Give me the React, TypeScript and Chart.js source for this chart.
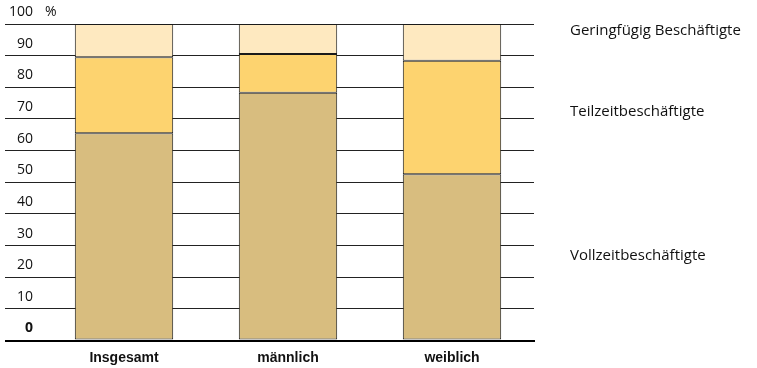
import React, { useEffect, useRef } from "react";
import { Chart, registerables } from "chart.js";

Chart.register(...registerables);

const categories = ["Insgesamt", "männlich", "weiblich"];
const seriesNames = ["Vollzeitbeschäftigte", "Teilzeitbeschäftigte", "Geringfügig Beschäftigte"];
const vollzeit = [65.5, 78.3, 52.5];
const teilzeit = [24.0, 12.2, 35.9];
const geringfuegig = [10.5, 9.5, 11.6];
const seriesColors = ["#D8BD7F", "#FDD36F", "#FEE9C0"];
const yMin = 0;
const yMax = 100;
const yStep = 10;
const unitLabel = "%";
// vertical anchor (in axis units) for each side label: Vollzeit, Teilzeit, Geringfügig
const sideLabelAnchors = [26.7, 72.2, 97.8];

export default function App() {
  const ref = useRef<HTMLCanvasElement | null>(null);

  useEffect(() => {
    const canvas = ref.current;
    if (!canvas) return;
    const series = [vollzeit, teilzeit, geringfuegig];

    const extras = {
      id: "extras",
      afterDraw(chart: any) {
        const ctx = chart.ctx;
        const y = chart.scales.y;
        const area = chart.chartArea;
        ctx.save();
        ctx.fillStyle = "#111";
        ctx.textBaseline = "middle";
        ctx.textAlign = "left";
        ctx.font = "14px 'Open Sans'";
        ctx.fillText(unitLabel, area.left + 3, y.getPixelForValue(yMax) - 12);
        ctx.font = "15px 'Open Sans'";
        seriesNames.forEach((name, i) => {
          ctx.fillText(name, 570, y.getPixelForValue(sideLabelAnchors[i]));
        });
        ctx.restore();
      },
    };

    const chart = new Chart(canvas, {
      type: "bar",
      data: {
        labels: categories,
        datasets: series.map((data, i) => ({
          label: seriesNames[i],
          data,
          backgroundColor: seriesColors[i],
          borderColor: "#1a1a1a",
          borderWidth: 1,
          borderSkipped: false,
          barPercentage: 0.6,
          categoryPercentage: 1,
        })),
      },
      options: {
        responsive: false,
        animation: false,
        layout: { padding: { top: 24, right: 223, left: 0, bottom: 0 } },
        plugins: { legend: { display: false }, tooltip: { enabled: false } },
        scales: {
          x: {
            stacked: true,
            grid: { display: false },
            border: { display: true, color: "#000", width: 2 },
            ticks: {
              color: "#111",
              padding: 1,
              font: { family: "'Liberation Sans Narrow', 'Liberation Sans'", weight: "bold", size: 14 },
            },
            afterFit: (s: any) => {
              s.height = 27.5;
            },
          },
          y: {
            stacked: true,
            min: yMin,
            max: yMax,
            border: { display: false },
            grid: {
              color: "#222",
              tickColor: (c: any) => (c.tick && c.tick.value === 0 ? "#000" : "#222"),
              drawTicks: true,
              tickLength: 37,
              lineWidth: (c: any) => (c.tick && c.tick.value === 0 ? 2 : 1),
              tickWidth: (c: any) => (c.tick && c.tick.value === 0 ? 2 : 1),
            },
            ticks: {
              stepSize: yStep,
              padding: -28,
              labelOffset: -12,
              color: "#111",
              font: (c: any) =>
                c.tick && c.tick.value === 0
                  ? { family: "'Open Sans'", size: 14, weight: "bold" }
                  : { family: "'Open Sans'", size: 14 },
            },
            afterFit: (s: any) => {
              s.width = 42;
            },
          },
        },
      },
      plugins: [extras],
    });
    return () => chart.destroy();
  }, []);

  return (
    <div style={{ position: "absolute", left: 0, top: 0, width: 757, height: 368, background: "#fff" }}>
      <canvas ref={ref} width={757} height={368} />
    </div>
  );
}
